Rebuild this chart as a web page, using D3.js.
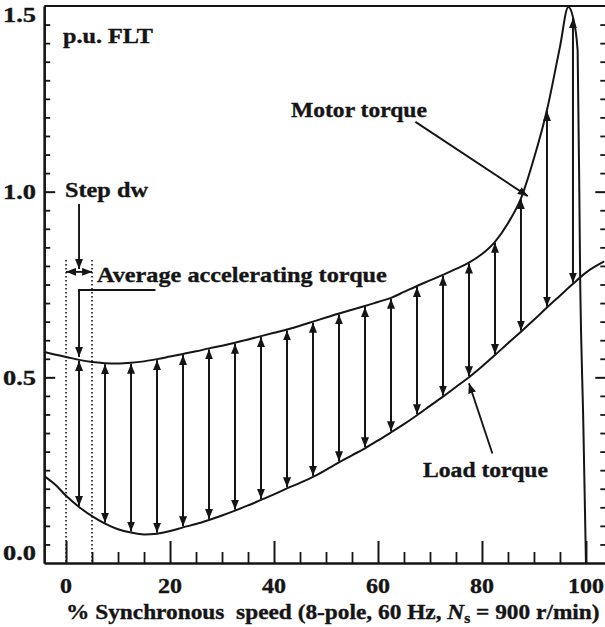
<!DOCTYPE html>
<html><head><meta charset="utf-8">
<script src="https://cdn.jsdelivr.net/npm/d3@7"></script>
<style>
html,body{margin:0;padding:0;background:#fff;}
svg{display:block;}
text{font-family:"Liberation Serif","Times New Roman",serif;font-weight:bold;fill:#151515;stroke:#151515;stroke-width:0.35;}
</style></head><body>
<svg id="chart" width="605" height="627"></svg>
<script>
// ---- data ----
const motorSpeed  = [-4.2, -2, 0, 2.5, 5, 7.5, 10, 12.5, 15, 17.5, 20, 22.5, 25, 27.5, 30, 32.5, 35, 37.5, 40, 42.5, 45, 47.5, 50, 52.5, 55, 57.5, 60, 62.5, 65, 67.5, 70, 72.5, 75, 77.5, 80, 82.5, 85, 87.5, 90, 92.5, 95, 96.6, 97.5, 98.4, 98.9, 99.5, 100];
const motorTorque = [0.568, 0.561, 0.555, 0.547, 0.541, 0.538, 0.537, 0.539, 0.543, 0.549, 0.556, 0.563, 0.570, 0.578, 0.585, 0.593, 0.602, 0.611, 0.620, 0.629, 0.639, 0.650, 0.661, 0.672, 0.682, 0.692, 0.703, 0.714, 0.730, 0.746, 0.761, 0.776, 0.792, 0.809, 0.832, 0.865, 0.915, 0.982, 1.090, 1.220, 1.390, 1.497, 1.470, 1.380, 0.745, 0.370, 0.0];
const loadSpeed   = [-4.2, -2, 0, 2.5, 5, 7.5, 10, 12.5, 15, 17.5, 20, 22.5, 25, 27.5, 30, 32.5, 35, 37.5, 40, 42.5, 45, 47.5, 50, 52.5, 55, 57.5, 60, 62.5, 65, 67.5, 70, 72.5, 75, 77.5, 80, 82.5, 85, 87.5, 90, 92.5, 95, 97.5, 100, 103.5];
const loadTorque  = [0.234, 0.210, 0.181, 0.151, 0.126, 0.106, 0.091, 0.082, 0.077, 0.079, 0.086, 0.096, 0.105, 0.116, 0.128, 0.141, 0.155, 0.170, 0.185, 0.201, 0.216, 0.232, 0.251, 0.271, 0.290, 0.309, 0.330, 0.352, 0.374, 0.398, 0.423, 0.448, 0.474, 0.500, 0.529, 0.560, 0.592, 0.623, 0.655, 0.688, 0.720, 0.752, 0.782, 0.812];
const arrowSpeeds = [2.5, 7.5, 12.5, 17.5, 22.5, 27.5, 32.5, 37.5, 42.5, 47.5, 52.5, 57.5, 62.5, 67.5, 72.5, 77.5, 82.5, 87.5, 92.5, 97.5];
const stepEdges   = [0, 5];
const xMajorTicks = [0, 20, 40, 60, 80, 100];
const xMinorTicks = [5, 10, 15, 25, 30, 35, 45, 50, 55, 65, 70, 75, 85, 90, 95];
const yMajorTicks = [0.0, 0.5, 1.0, 1.5];
const yMinorTicks = [0.05,0.1,0.15,0.2,0.25,0.3,0.35,0.4,0.45,0.55,0.6,0.65,0.7,0.75,0.8,0.85,0.9,0.95,1.05,1.1,1.15,1.2,1.25,1.3,1.35,1.4,1.45];
const yTickLabels = ["0.0", "0.5", "1.0", "1.5"];
const xTickLabels = ["0", "20", "40", "60", "80", "100"];

const INK = "#151515";
const svg = d3.select("#chart");
const x = d3.scaleLinear().domain([-4.2, 104.2]).range([44.2, 607.8]);
const y = d3.scaleLinear().domain([0, 1.5]).range([563, 6]);

const motorMap = new Map(motorSpeed.map((s, i) => [s, motorTorque[i]]));
const loadMap = new Map(loadSpeed.map((s, i) => [s, loadTorque[i]]));

// markers
const defs = svg.append("defs");
defs.append("marker").attr("id", "ah")
  .attr("viewBox", "0 0 10 8").attr("refX", 10).attr("refY", 4)
  .attr("markerWidth", 10).attr("markerHeight", 8)
  .attr("markerUnits", "userSpaceOnUse").attr("orient", "auto-start-reverse")
  .append("path").attr("d", "M0,0L10,4L0,8z").attr("fill", INK);

// ---- axes ----
function styleAxis(g, w) {
  g.select(".domain").attr("stroke", INK).attr("stroke-width", 2.2);
  g.selectAll(".tick line").attr("stroke", INK).attr("stroke-width", w);
  g.selectAll(".tick text").remove();
}
const bottomY = y(0);
svg.append("g").attr("transform", `translate(0,${bottomY})`)
  .call(d3.axisBottom(x).tickValues(xMajorTicks).tickSizeInner(-22).tickSizeOuter(0).tickFormat(""))
  .call(g => styleAxis(g, 2));
svg.append("g").attr("transform", `translate(0,${bottomY})`)
  .call(d3.axisBottom(x).tickValues(xMinorTicks).tickSizeInner(-11).tickSizeOuter(0).tickFormat(""))
  .call(g => styleAxis(g, 1.8));
svg.append("g").attr("transform", `translate(${x(-4.2)},0)`)
  .call(d3.axisLeft(y).tickValues([0.5, 1.0]).tickSizeInner(-11).tickSizeOuter(0).tickFormat(""))
  .call(g => styleAxis(g, 2));
svg.append("g").attr("transform", `translate(${x(-4.2)},0)`)
  .call(d3.axisLeft(y).tickValues(yMinorTicks).tickSizeInner(-6).tickSizeOuter(0).tickFormat(""))
  .call(g => styleAxis(g, 1.8));
svg.append("g").attr("transform", `translate(${x(104.2) - 1.5},0)`)
  .call(d3.axisRight(y).tickValues([0.5, 1.0]).tickSizeInner(-11).tickSizeOuter(0).tickFormat(""))
  .call(g => styleAxis(g, 2));
svg.append("g").attr("transform", `translate(${x(104.2) - 1.5},0)`)
  .call(d3.axisRight(y).tickValues(yMinorTicks).tickSizeInner(-6).tickSizeOuter(0).tickFormat(""))
  .call(g => styleAxis(g, 1.8));
svg.append("line").attr("x1", x(-4.2)).attr("x2", x(104.2)).attr("y1", y(1.5)).attr("y2", y(1.5))
  .attr("stroke", INK).attr("stroke-width", 2.2);

// ---- text helper (stretches to measured width) ----
function addText(left, baseline, width, size, anchor, build) {
  const g = svg.append("g");
  const t = g.append("text").attr("font-size", size).attr("text-anchor", anchor || "start")
    .style("white-space", "pre");
  build(t);
  const w = t.node().getComputedTextLength();
  g.attr("transform", `translate(${left},${baseline}) scale(${width / w},1)`);
  return g;
}

// tick labels
const yLabelBase = [560, y(0.5) + 8, y(1.0) + 7, 22];
yMajorTicks.forEach((v, i) => addText(3, yLabelBase[i], 33, 21, "start", t => t.text(yTickLabels[i])));
xMajorTicks.forEach((v, i) => addText(x(v), 593, 12 * xTickLabels[i].length, 21, "middle", t => t.text(xTickLabels[i])));

// axis title
addText(66, 619, 534, 21, "start", t => {
  t.append("tspan").text("% Synchronous  speed (8-pole, 60 Hz, ");
  t.append("tspan").attr("font-style", "italic").text("N");
  t.append("tspan").attr("font-size", 14).attr("dy", 4).text("s");
  t.append("tspan").attr("dy", -4).text(" = 900 r/min)");
});

// ---- dotted step lines ----
svg.selectAll(".step").data(stepEdges).enter().append("line")
  .attr("x1", d => x(d)).attr("x2", d => x(d))
  .attr("y1", y(0.816)).attr("y2", y(0))
  .attr("stroke", INK).attr("stroke-width", 1.6).attr("stroke-dasharray", "1.6,2.4");

// ---- curves ----
const line = d3.line().x(d => x(d[0])).y(d => y(d[1])).curve(d3.curveMonotoneX);
svg.append("path").attr("d", line(motorSpeed.map((s, i) => [s, motorTorque[i]])))
  .attr("fill", "none").attr("stroke", INK).attr("stroke-width", 2);
svg.append("path").attr("d", line(loadSpeed.map((s, i) => [s, loadTorque[i]])))
  .attr("fill", "none").attr("stroke", INK).attr("stroke-width", 2);

// ---- accelerating torque arrows ----
svg.selectAll(".acc").data(arrowSpeeds).enter().append("line")
  .attr("x1", d => x(d)).attr("x2", d => x(d))
  .attr("y1", d => y(loadMap.get(d)) - 1).attr("y2", d => y(motorMap.get(d)) + 1)
  .attr("stroke", INK).attr("stroke-width", 2)
  .attr("marker-start", "url(#ah)").attr("marker-end", "url(#ah)");

// ---- annotations ----
addText(63, 43, 90, 21, "start", t => t.text("p.u. FLT"));
addText(65, 197, 83, 21, "start", t => t.text("Step dw"));
addText(97, 282, 290, 22, "start", t => t.text("Average accelerating torque"));
addText(291, 117, 136, 21, "start", t => t.text("Motor torque"));
addText(423, 477, 125, 21, "start", t => t.text("Load torque"));

const ann = svg.append("g").attr("fill", "none").attr("stroke", INK).attr("stroke-width", 1.9);
// Step dw pointer
ann.append("line").attr("x1", x(2.5)).attr("x2", x(2.5)).attr("y1", y(0.967)).attr("y2", y(0.792))
  .attr("marker-end", "url(#ah)");
ann.append("line").attr("x1", x(stepEdges[0])).attr("x2", x(stepEdges[1])).attr("y1", y(0.784)).attr("y2", y(0.784))
  .attr("marker-start", "url(#ah)").attr("marker-end", "url(#ah)");
// Average accelerating torque pointer
ann.append("path").attr("d", `M${x(17.2)},${y(0.735)}H${x(2.5)}V${y(motorMap.get(2.5)) - 3}`)
  .attr("marker-end", "url(#ah)");
// Motor torque pointer
ann.append("line").attr("x1", x(67.2)).attr("y1", y(1.188)).attr("x2", x(88.8)).attr("y2", y(0.988))
  .attr("marker-end", "url(#ah)");
// Load torque pointer
ann.append("line").attr("x1", x(82.0)).attr("y1", y(0.295)).attr("x2", x(77.5)).attr("y2", y(0.484))
  .attr("marker-end", "url(#ah)");
</script>
</body></html>
